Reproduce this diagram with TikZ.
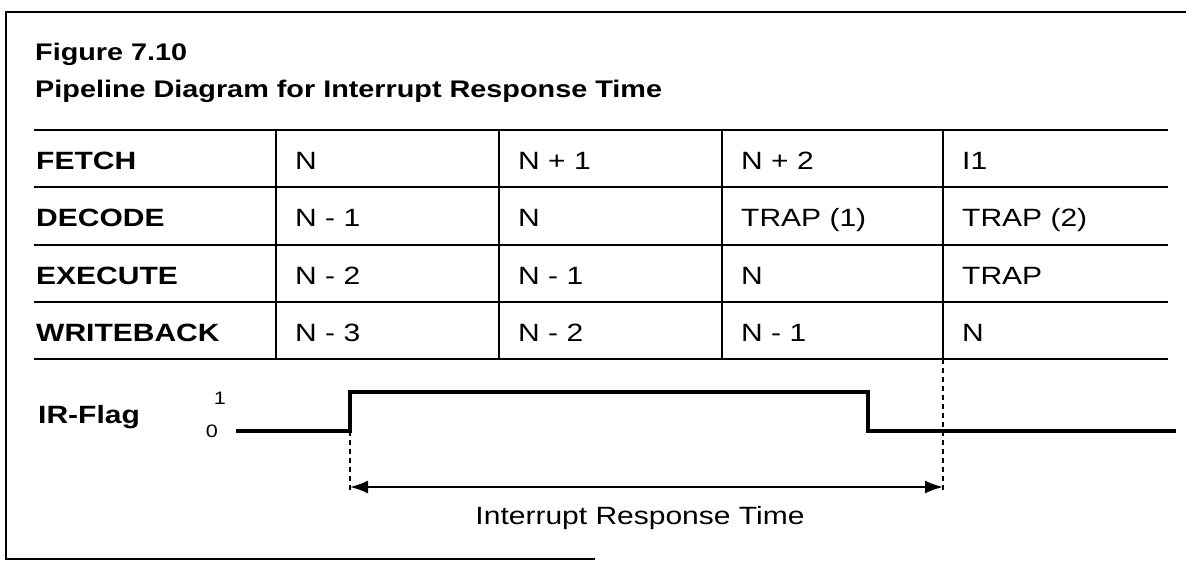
\documentclass[tikz,border=0pt]{standalone}
\usepackage{fontspec}
\setmainfont{Liberation Sans}[FakeStretch=1.2]
\usetikzlibrary{arrows.meta}
\begin{document}
\begin{tikzpicture}[x=1pt,y=-1pt,
  frameline/.style={line width=2.2pt},
  hline/.style={line width=2.4pt},
  vline/.style={line width=1.4pt},
  sig/.style={line width=3.2pt},
  guide/.style={line width=1.4pt,dash pattern=on 5pt off 4pt},
  head/.style={anchor=base west,inner sep=0pt,font=\fontsize{24}{28}\selectfont\bfseries},
  rowlab/.style={anchor=base west,inner sep=0pt,font=\fontsize{25}{29}\selectfont\bfseries},
  cell/.style={anchor=base west,inner sep=0pt,font=\fontsize{25}{29}\selectfont},
  lvl/.style={anchor=center,inner sep=0pt,font=\fontsize{18}{20}\selectfont}]
\useasboundingbox (0,0) rectangle (1186,563);
% frame
\draw[frameline] (1186,12) -- (6,12) -- (6,559) -- (595,559);
% heading
\node[head] (fig) at (35,60) {Figure 7.10};
\node[head] (title) at (35,97) {Pipeline Diagram for Interrupt Response Time};
% table lines
\foreach \y in {130,187,245,302,359} \draw[hline] (34,\y) -- (1168,\y);
\foreach \x in {276,499,722,943} \draw[vline] (\x,130) -- (\x,359);
% row labels
\node[rowlab] (r1) at (36,169) {FETCH};
\node[rowlab] (r2) at (36,226) {DECODE};
\node[rowlab] (r3) at (36,284) {EXECUTE};
\node[rowlab] (r4) at (36,341) {WRITEBACK};
% cells
\node[cell] (c11) at (295,169) {N};
\node[cell] (c12) at (518,169) {N + 1};
\node[cell] (c13) at (741,169) {N + 2};
\node[cell] (c14) at (962,169) {I1};
\node[cell] (c21) at (295,226) {N - 1};
\node[cell] (c22) at (518,226) {N};
\node[cell] (c23) at (741,226) {TRAP (1)};
\node[cell] (c24) at (962,226) {TRAP (2)};
\node[cell] (c31) at (295,284) {N - 2};
\node[cell] (c32) at (518,284) {N - 1};
\node[cell] (c33) at (741,284) {N};
\node[cell] (c34) at (962,284) {TRAP};
\node[cell] (c41) at (295,341) {N - 3};
\node[cell] (c42) at (518,341) {N - 2};
\node[cell] (c43) at (741,341) {N - 1};
\node[cell] (c44) at (962,341) {N};
% IR flag
\node[rowlab] (irf) at (38,423) {IR-Flag};
\node[lvl] (one) at (220,398) {1};
\node[lvl] (zero) at (212,431) {0};
\coordinate (s0) at (236,431);
\coordinate (s1) at (350,431);
\coordinate (s2) at (350,392);
\coordinate (s3) at (868,392);
\coordinate (s4) at (868,431);
\coordinate (s5) at (1176,431);
\draw[sig] (s0) -- (s1) -- (s2) -- (s3) -- (s4) -- (s5);
% guides
\coordinate (gA) at (350,490);
\coordinate (gT) at (943,359);
\coordinate (gB) at (943,490);
\draw[guide] (s1) -- (gA);
\draw[guide] (gT) -- (gB);
\coordinate (aL) at (350,487);
\coordinate (aR) at (943,487);
\draw[line width=2pt,{Latex[length=18pt,width=13pt]}-{Latex[length=18pt,width=13pt]}] (aL) -- (aR);
\node[anchor=base,inner sep=0pt,font=\fontsize{25}{29}\selectfont] (irt) at (640,524) {Interrupt Response Time};
\end{tikzpicture}
\end{document}
